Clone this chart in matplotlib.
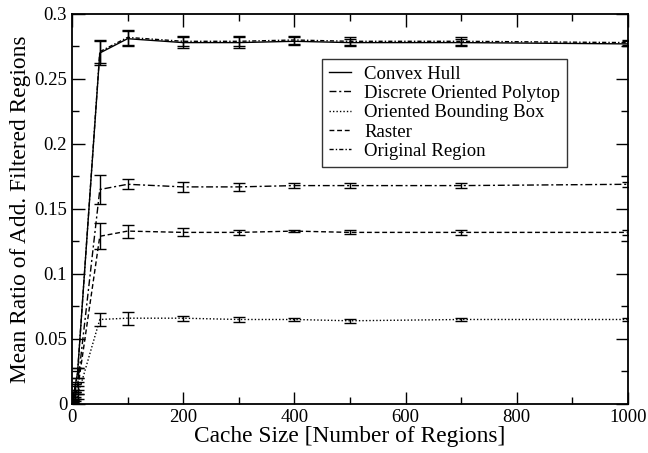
import matplotlib.pyplot as plt
from matplotlib.ticker import MultipleLocator, FuncFormatter

plt.rcParams['font.family'] = ['Liberation Serif', 'DejaVu Serif']

cache_size = [1, 5, 10, 50, 100, 200, 300, 400, 500, 700, 1000]

convex_hull = [0.003, 0.012, 0.024, 0.270, 0.281, 0.278, 0.278, 0.279, 0.278, 0.278, 0.277]
convex_hull_err = [0.001, 0.003, 0.004, 0.009, 0.006, 0.004, 0.004, 0.003, 0.003, 0.003, 0.002]

dop = [0.002, 0.007, 0.014, 0.165, 0.169, 0.167, 0.167, 0.168, 0.168, 0.168, 0.169]
dop_err = [0.001, 0.002, 0.003, 0.011, 0.004, 0.004, 0.003, 0.002, 0.002, 0.002, 0.002]

obb = [0.001, 0.003, 0.006, 0.065, 0.066, 0.066, 0.065, 0.065, 0.064, 0.065, 0.065]
obb_err = [0.0005, 0.001, 0.002, 0.005, 0.005, 0.002, 0.002, 0.001, 0.0015, 0.001, 0.0015]

raster = [0.002, 0.006, 0.011, 0.129, 0.133, 0.132, 0.132, 0.133, 0.132, 0.132, 0.132]
raster_err = [0.001, 0.002, 0.003, 0.010, 0.005, 0.003, 0.002, 0.001, 0.0015, 0.002, 0.002]

original = [0.003, 0.012, 0.024, 0.271, 0.282, 0.279, 0.279, 0.280, 0.279, 0.279, 0.278]
original_err = [0.001, 0.003, 0.004, 0.009, 0.006, 0.004, 0.004, 0.003, 0.003, 0.003, 0.002]

names = ["Convex Hull", "Discrete Oriented Polytop", "Oriented Bounding Box",
         "Raster", "Original Region"]
styles = ['-', (0, (5, 2, 1.5, 2)), (0, (1, 1.5)), (0, (3.5, 2)), (0, (3, 1.5, 1, 1.5))]

fig = plt.figure(figsize=(6.48, 4.53), dpi=100)
ax = fig.add_axes([0.1111, 0.1082, 0.8580, 0.8609])

series = [(convex_hull, convex_hull_err), (dop, dop_err), (obb, obb_err),
          (raster, raster_err), (original, original_err)]
for (vals, errs), name, ls in zip(series, names, styles):
    ax.errorbar(cache_size, vals, yerr=errs, color='black', lw=1.0, ls=ls,
                elinewidth=1.0, capsize=4.5, capthick=1.0, label=name)

ax.set_xlim(0, 1000)
ax.set_ylim(0, 0.3)
ax.xaxis.set_major_locator(MultipleLocator(200))
ax.xaxis.set_minor_locator(MultipleLocator(100))
ax.yaxis.set_major_locator(MultipleLocator(0.05))
ax.yaxis.set_minor_locator(MultipleLocator(0.025))
ax.yaxis.set_major_formatter(FuncFormatter(lambda v, p: f"{v:.2f}".rstrip('0').rstrip('.')))
ax.tick_params(which='both', direction='in', top=True, right=True,
               labelsize=13.5, width=1.0)
ax.tick_params(which='major', length=9)
ax.tick_params(which='minor', length=5)
for sp in ax.spines.values():
    sp.set_linewidth(1.3)

ax.set_xlabel("Cache Size [Number of Regions]", fontsize=16.8, labelpad=0)
ax.set_ylabel("Mean Ratio of Add. Filtered Regions", fontsize=16.8, labelpad=2)

handles, labels = ax.get_legend_handles_labels()
handles = [h[0] for h in handles]
leg = ax.legend(handles, labels, loc='upper left', bbox_to_anchor=(0.450, 0.885),
                fontsize=13.5, frameon=True, fancybox=False, edgecolor='black',
                handlelength=1.2, handletextpad=0.7, borderpad=0.35,
                labelspacing=0.12, borderaxespad=0)
leg.get_frame().set_linewidth(1.0)

fig.savefig('out.png', dpi=100)
